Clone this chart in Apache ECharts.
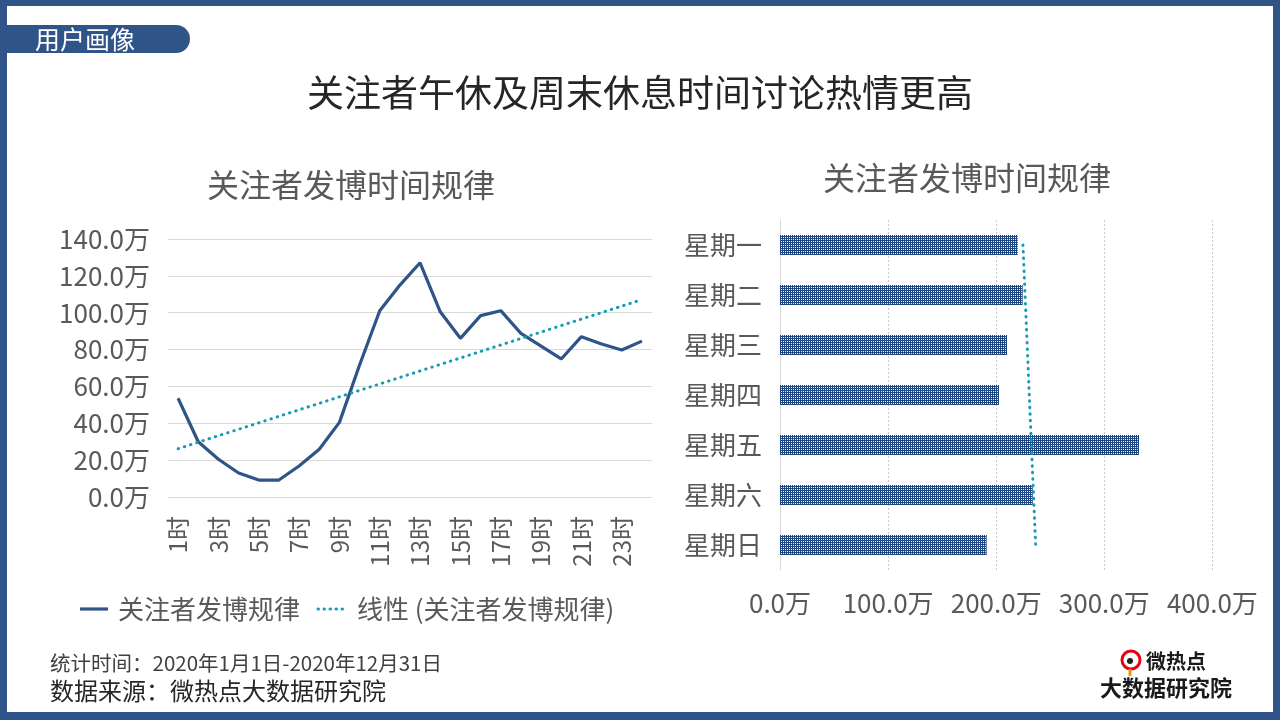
<!DOCTYPE html>
<html>
<head>
<meta charset="utf-8">
<script src="https://cdn.jsdelivr.net/npm/echarts@6/dist/echarts.min.js"></script>
<style>
html,body{margin:0;padding:0;background:#fff;}
#chart{width:1280px;height:720px;}
</style>
</head>
<body>
<div id="chart"></div>
<script>
// ---- data ----
const hours = ['1时','2时','3时','4时','5时','6时','7时','8时','9时','10时','11时','12时','13时','14时','15时','16时','17时','18时','19时','20时','21时','22时','23时','24时'];
const postsByHour = [53.6,30.0,20.5,13.0,9.2,9.2,16.8,25.9,40.5,71.6,101.1,115.0,127.1,100.5,86.1,98.4,101.1,88.8,81.9,74.9,87.0,83.0,79.8,84.6];
const weekdays = ['星期一','星期二','星期三','星期四','星期五','星期六','星期日'];
const postsByWeekday = [219.9,224.5,210.0,202.6,332.1,233.8,191.2];
const mainTitle = '关注者午休及周末休息时间讨论热情更高';
const subTitle = '关注者发博时间规律';
const legendNames = ['关注者发博规律','线性 (关注者发博规律)'];
const footerLines = ['统计时间：2020年1月1日-2020年12月31日','数据来源：微热点大数据研究院'];

// least-squares linear trend (as the spreadsheet "线性" trendline)
function linearTrend(vals){
  const n = vals.length;
  let sx=0, sy=0, sxx=0, sxy=0;
  vals.forEach((v,i)=>{sx+=i;sy+=v;sxx+=i*i;sxy+=i*v;});
  const b=(n*sxy-sx*sy)/(n*sxx-sx*sx);
  const a=(sy-b*sx)/n;
  return vals.map((_,i)=>+(a+b*i).toFixed(2));
}
const hourTrend = linearTrend(postsByHour);
const weekTrend = linearTrend(postsByWeekday);

const BLUE = '#2F5487';
const TEAL = '#159CB3';
const GRAY = '#595959';
const FONT = '"Noto Sans CJK SC","Noto Sans",sans-serif';

// dotted texture for bars
const pc = document.createElement('canvas');
pc.width = 2; pc.height = 2;
const pctx = pc.getContext('2d');
pctx.fillStyle = '#1A4482';
pctx.fillRect(0,0,2,2);
pctx.fillStyle = '#F4F6FA';
pctx.fillRect(1,1,1,1);

const chart = echarts.init(document.getElementById('chart'));
const option = {
  animation:false,
  textStyle:{fontFamily:FONT},
  grid:[
    {left:168, top:239, width:484, height:258},
    {left:780, top:220, width:432.4, height:350}
  ],
  xAxis:[
    {type:'category', gridIndex:0, data:hours, boundaryGap:true,
     axisLine:{lineStyle:{color:'#D9D9D9', width:1}}, axisTick:{show:false},
     axisLabel:{rotate:90, interval:1, color:GRAY, fontSize:24, margin:19, fontFamily:FONT}},
    {type:'value', gridIndex:1, min:0, max:400, interval:100,
     axisLine:{show:false}, axisTick:{show:false},
     splitLine:{show:true, lineStyle:{color:'#C8C8C8', type:[2,2], width:1}},
     axisLabel:{color:GRAY, fontSize:26, margin:20, formatter:v=>v.toFixed(1)+'万', fontFamily:FONT}}
  ],
  yAxis:[
    {type:'value', gridIndex:0, min:0, max:140, interval:20,
     axisLine:{show:false}, axisTick:{show:false},
     splitLine:{lineStyle:{color:'#D9D9D9', width:1}},
     axisLabel:{color:GRAY, fontSize:26, margin:18, formatter:v=>v.toFixed(1)+'万', fontFamily:FONT}},
    {type:'category', gridIndex:1, data:weekdays, inverse:true,
     axisLine:{show:true, lineStyle:{color:'#D9D9D9', width:1}}, axisTick:{show:false},
     axisLabel:{color:GRAY, fontSize:26, margin:18, fontFamily:FONT}}
  ],
  series:[
    {name:legendNames[0], type:'line', xAxisIndex:0, yAxisIndex:0, data:postsByHour,
     showSymbol:false, lineStyle:{color:BLUE, width:3.2}, z:3},
    {name:legendNames[1], type:'line', xAxisIndex:0, yAxisIndex:0, data:hourTrend,
     showSymbol:false, lineStyle:{color:TEAL, width:3, type:[0.5,6], cap:'round'}, z:4},
    {type:'bar', xAxisIndex:1, yAxisIndex:1, data:postsByWeekday, barWidth:20,
     itemStyle:{color:{image:pc, repeat:'repeat'}}, z:2},
    {type:'line', xAxisIndex:1, yAxisIndex:1, data:weekTrend.map((v,i)=>[v,i]),
     showSymbol:false, lineStyle:{color:TEAL, width:3, type:[0.5,6], cap:'round'}, z:4}
  ],
  graphic:[
    // frame
    {type:'rect', shape:{x:0,y:0,width:1280,height:6}, style:{fill:BLUE}},
    {type:'rect', shape:{x:0,y:0,width:7,height:720}, style:{fill:BLUE}},
    {type:'rect', shape:{x:0,y:712,width:1280,height:8}, style:{fill:BLUE}},
    {type:'rect', shape:{x:1273,y:0,width:7,height:720}, style:{fill:BLUE}},
    // badge
    {type:'rect', shape:{x:6,y:25,width:184,height:28,r:[0,14,14,0]}, style:{fill:BLUE}},
    {type:'text', x:35, y:39, style:{text:'用户画像', fill:'#fff', font:'25px '+FONT, textVerticalAlign:'middle'}},
    // titles
    {type:'text', x:640, y:93, style:{text:mainTitle, fill:'#262626', font:'37px '+FONT, textAlign:'center', textVerticalAlign:'middle'}},
    {type:'text', x:351, y:185, style:{text:subTitle, fill:GRAY, font:'32px '+FONT, textAlign:'center', textVerticalAlign:'middle'}},
    {type:'text', x:967, y:178, style:{text:subTitle, fill:GRAY, font:'32px '+FONT, textAlign:'center', textVerticalAlign:'middle'}},
    // legend
    {type:'line', shape:{x1:80,y1:609,x2:108,y2:609}, style:{stroke:BLUE, lineWidth:3.2}},
    {type:'text', x:118, y:609, style:{text:legendNames[0], fill:GRAY, font:'26px '+FONT, textVerticalAlign:'middle'}},
    {type:'line', shape:{x1:318,y1:609,x2:346,y2:609}, style:{stroke:TEAL, lineWidth:3, lineDash:[0.5,5.5], lineCap:'round'}},
    {type:'text', x:357, y:609, style:{text:legendNames[1], fill:GRAY, font:'26px '+FONT, textVerticalAlign:'middle'}},
    // footer
    {type:'text', x:50, y:663, style:{text:footerLines[0], fill:'#404040', font:'20.5px '+FONT, textVerticalAlign:'middle'}},
    {type:'text', x:50, y:691, style:{text:footerLines[1], fill:'#262626', font:'24px '+FONT, textVerticalAlign:'middle'}},
    // logo
    {type:'circle', shape:{cx:1131,cy:660,r:9}, style:{fill:'none', stroke:'#E60012', lineWidth:3}},
    {type:'circle', shape:{cx:1130,cy:661,r:3}, style:{fill:'#222'}},
    {type:'line', shape:{x1:1130,y1:669,x2:1130,y2:676}, style:{stroke:'#F39800', lineWidth:3}},
    {type:'text', x:1146, y:661, style:{text:'微热点', fill:'#1a1a1a', font:'bold 20px '+FONT, textVerticalAlign:'middle'}},
    {type:'text', x:1100, y:688, style:{text:'大数据研究院', fill:'#1a1a1a', font:'bold 22px '+FONT, textVerticalAlign:'middle'}}
  ]
};
chart.setOption(option);
</script>
</body>
</html>
